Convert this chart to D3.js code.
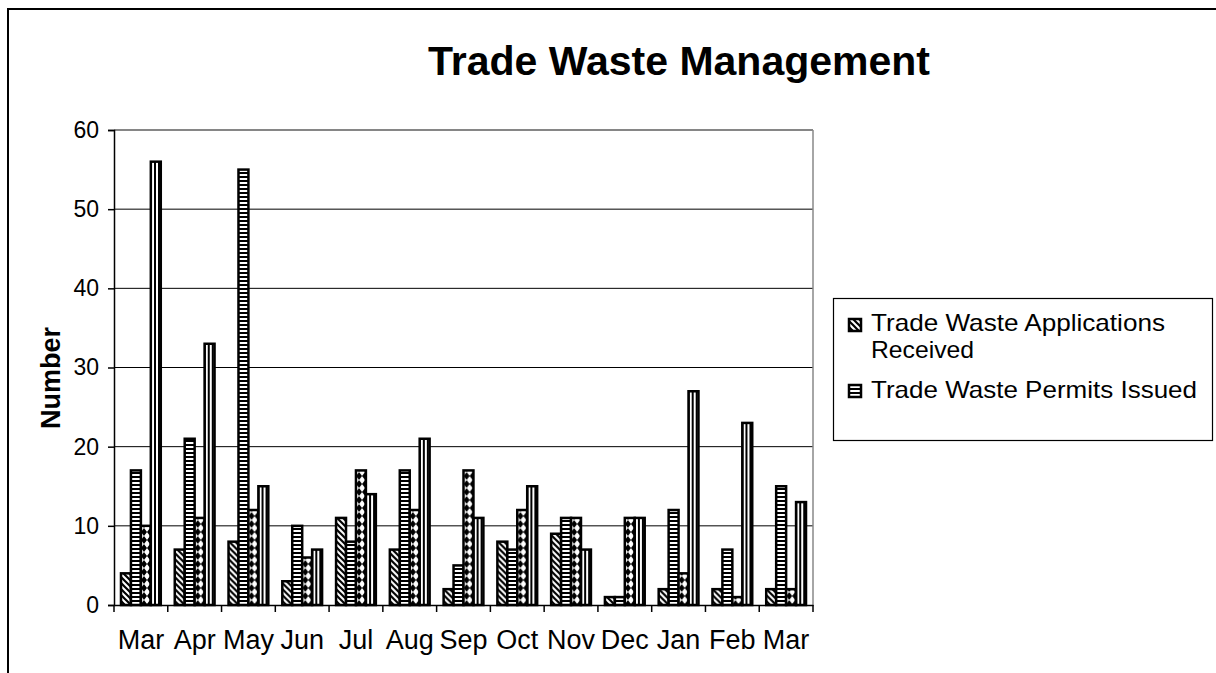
<!DOCTYPE html>
<html>
<head>
<meta charset="utf-8">
<script src="https://cdn.jsdelivr.net/npm/d3@7"></script>
<style>
  body { margin: 0; background: #fff; }
  text { font-family: "Liberation Sans", Arial, sans-serif; fill: #000; }
</style>
</head>
<body>
<svg id="chart" width="1216" height="673"></svg>
<script>
/*global d3 */
var months = ["Mar","Apr","May","Jun","Jul","Aug","Sep","Oct","Nov","Dec","Jan","Feb","Mar"];
var applications = [4,7,8,3,11,7,2,8,9,1,2,2,2];
var permits = [17,21,55,10,8,17,5,7,11,1,12,7,15];
var series3 = [10,11,12,6,17,12,17,12,11,11,4,1,2];
var series4 = [56,33,15,7,14,21,11,15,7,11,27,23,13];
var yTicks = [0,10,20,30,40,50,60];
var legendNames = ["Trade Waste Applications", "Trade Waste Permits Issued"];

(function() {
    var svg = d3.select("#chart");
    var left = 114, right = 813, top = 130, bottom = 605;

    // patterns, one per series
    var defs = svg.append("defs");
    var p = defs.append("pattern").attr("id","pDiag").attr("patternUnits","userSpaceOnUse").attr("width",6).attr("height",6);
    p.append("rect").attr("width",6).attr("height",6).attr("fill","#fff");
    p.append("path").attr("d","M0,0L6,6M5,-1L7,1M-1,5L1,7").attr("stroke","#000").attr("stroke-width",2.2);

    p = defs.append("pattern").attr("id","pHoriz").attr("patternUnits","userSpaceOnUse").attr("width",4).attr("height",4);
    p.append("rect").attr("width",4).attr("height",4).attr("fill","#fff");
    p.append("rect").attr("width",4).attr("height",2).attr("fill","#000");

    p = defs.append("pattern").attr("id","pDots").attr("patternUnits","userSpaceOnUse").attr("width",6).attr("height",8);
    p.append("rect").attr("width",6).attr("height",8).attr("fill","#fff");
    p.append("path").attr("d","M0,0L3,4L0,8ZM6,0L3,4L6,8Z").attr("fill","#000");

    p = defs.append("pattern").attr("id","pVert").attr("patternUnits","userSpaceOnUse").attr("width",4).attr("height",4);
    p.append("rect").attr("width",4).attr("height",4).attr("fill","#fff");
    p.append("rect").attr("width",2).attr("height",4).attr("fill","#000");

    var fills = ["url(#pDiag)","url(#pHoriz)","url(#pDots)","url(#pVert)"];
    var allSeries = [applications, permits, series3, series4];

    // outer frame
    svg.append("rect").attr("x",8).attr("y",9).attr("width",1400).attr("height",900)
        .attr("fill","none").attr("stroke","#000").attr("stroke-width",2);

    svg.append("text").attr("x",679).attr("y",75).attr("text-anchor","middle")
        .attr("font-size",41).attr("font-weight","bold").text("Trade Waste Management");

    var idx = d3.range(months.length);
    var x0 = d3.scaleBand().domain(idx).range([left,right]);
    var bw = x0.bandwidth();
    var x1 = d3.scaleBand().domain([0,1,2,3]).range([bw*0.13, bw*0.87]);
    var y = d3.scaleLinear().domain([0,60]).range([bottom,top]);

    // gridlines
    svg.append("g").selectAll("line").data(yTicks.slice(1)).enter().append("line")
        .attr("x1",left).attr("x2",right).attr("y1",function(d){ return y(d); }).attr("y2",function(d){ return y(d); })
        .attr("stroke","#000").attr("stroke-width",1);
    svg.append("line").attr("x1",left).attr("x2",right).attr("y1",top).attr("y2",top).attr("stroke","#888").attr("stroke-width",1.5);
    svg.append("line").attr("x1",right).attr("x2",right).attr("y1",top).attr("y2",bottom).attr("stroke","#888").attr("stroke-width",1.5);

    // bars
    var groups = svg.append("g").selectAll("g").data(idx).enter().append("g")
        .attr("transform",function(i){ return "translate(" + x0(i) + ",0)"; });
    groups.selectAll("rect").data(function(i){ return allSeries.map(function(s,k){ return {k:k, v:s[i]}; }); })
        .enter().append("rect")
        .attr("x",function(d){ return x1(d.k); })
        .attr("y",function(d){ return y(d.v); })
        .attr("width",x1.bandwidth())
        .attr("height",function(d){ return bottom - y(d.v); })
        .attr("fill",function(d){ return fills[d.k]; })
        .attr("stroke","#000").attr("stroke-width",2.5);

    // axes
    var yAxis = svg.append("g").attr("transform","translate(" + left + ",0)")
        .call(d3.axisLeft(y).tickValues(yTicks).tickSize(6).tickPadding(9));
    yAxis.selectAll("text").attr("font-size",23).attr("font-family","Liberation Sans, Arial, sans-serif");
    yAxis.selectAll("path,line").attr("stroke","#000").attr("stroke-width",1.5);

    var xAxis = svg.append("g").attr("transform","translate(0," + bottom + ")")
        .call(d3.axisBottom(x0).tickSize(0).tickFormat(function(i){ return months[i]; }).tickPadding(25));
    xAxis.selectAll("text").attr("font-size",27).attr("font-family","Liberation Sans, Arial, sans-serif");
    xAxis.select("path").attr("stroke","#000").attr("stroke-width",1.5);
    // ticks between categories
    svg.append("g").selectAll("line").data(d3.range(months.length + 1)).enter().append("line")
        .attr("x1",function(i){ return left + i*bw; }).attr("x2",function(i){ return left + i*bw; })
        .attr("y1",bottom).attr("y2",bottom + 7).attr("stroke","#000").attr("stroke-width",1.5);

    svg.append("text").attr("transform","translate(60,378) rotate(-90)").attr("text-anchor","middle")
        .attr("font-size",27).attr("font-weight","bold").text("Number");

    // legend
    var lg = svg.append("g");
    lg.append("rect").attr("x",833.5).attr("y",298.5).attr("width",379).attr("height",142)
        .attr("fill","#fff").attr("stroke","#000").attr("stroke-width",1.2);
    lg.append("rect").attr("x",849).attr("y",319).attr("width",12).attr("height",12)
        .attr("fill",fills[0]).attr("stroke","#000").attr("stroke-width",2.5);
    lg.append("text").attr("x",871).attr("y",331).attr("font-size",24)
        .attr("textLength",294).attr("lengthAdjust","spacingAndGlyphs").text(legendNames[0]);
    lg.append("text").attr("x",871).attr("y",358).attr("font-size",24)
        .attr("textLength",103).attr("lengthAdjust","spacingAndGlyphs").text("Received");
    lg.append("rect").attr("x",849).attr("y",385).attr("width",12).attr("height",12)
        .attr("fill",fills[1]).attr("stroke","#000").attr("stroke-width",2.5);
    lg.append("text").attr("x",871).attr("y",398).attr("font-size",24)
        .attr("textLength",326).attr("lengthAdjust","spacingAndGlyphs").text(legendNames[1]);
}());
</script>
</body>
</html>
